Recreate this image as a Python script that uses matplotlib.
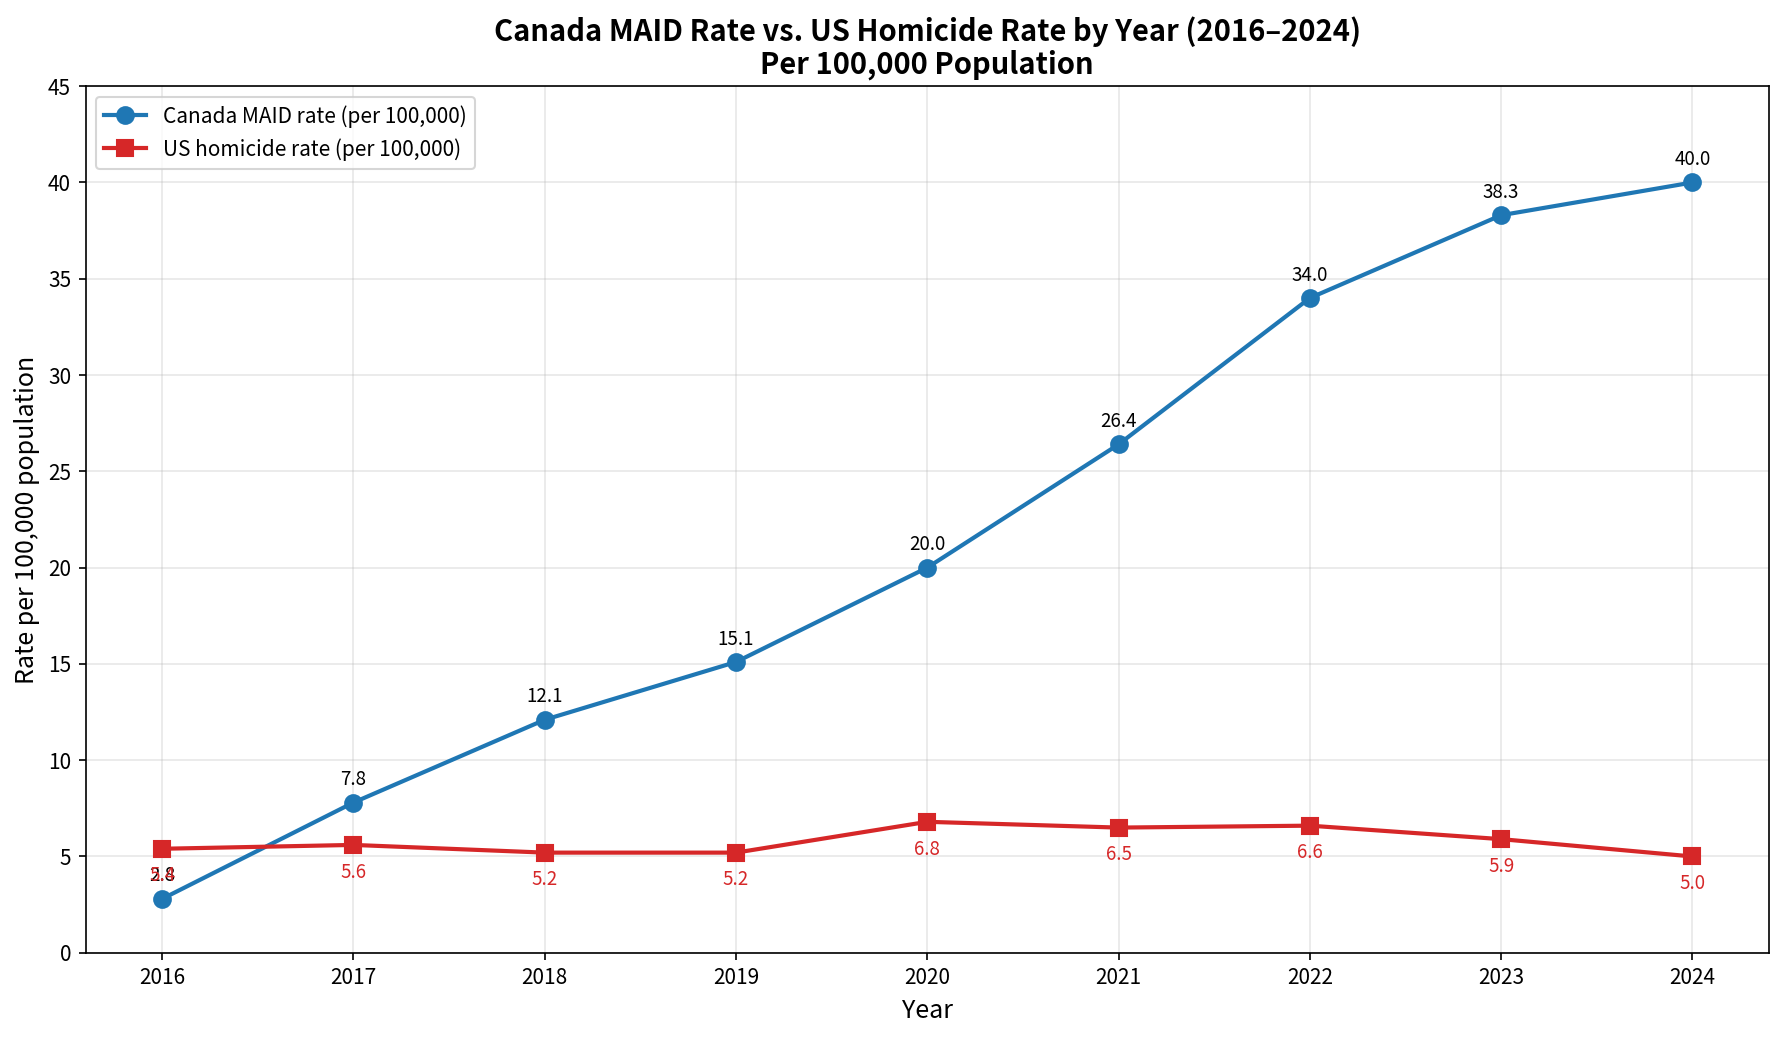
import matplotlib.pyplot as plt

plt.rcParams['font.family'] = ['Noto Sans CJK JP', 'DejaVu Sans']

years = [2016, 2017, 2018, 2019, 2020, 2021, 2022, 2023, 2024]
maid_rate = [2.8, 7.8, 12.1, 15.1, 20.0, 26.4, 34.0, 38.3, 40.0]
homicide_rate = [5.4, 5.6, 5.2, 5.2, 6.8, 6.5, 6.6, 5.9, 5.0]

fig, ax = plt.subplots(figsize=(11.9, 6.927), dpi=150)

ax.plot(years, maid_rate, marker='o', color='#1f77b4', linewidth=2, markersize=8,
        label='Canada MAID rate (per 100,000)')
ax.plot(years, homicide_rate, marker='s', color='#d62728', linewidth=2, markersize=8,
        label='US homicide rate (per 100,000)')

# value labels: MAID above, homicide below
for x, y in zip(years, maid_rate):
    ax.annotate(f'{y:.1f}', (x, y), textcoords='offset points', xytext=(0, 6),
                ha='center', va='bottom', fontsize=9, color='black')
for x, y in zip(years, homicide_rate):
    ax.annotate(f'{y:.1f}', (x, y), textcoords='offset points', xytext=(0, -8),
                ha='center', va='top', fontsize=9, color='#d62728')

ax.set_ylim(0, 45)
ax.set_xticks(years)
ax.set_xlabel('Year', fontsize=12)
ax.set_ylabel('Rate per 100,000 population', fontsize=12)
ax.set_title('Canada MAID Rate vs. US Homicide Rate by Year (2016\u20132024)\nPer 100,000 Population',
             fontsize=14, fontweight='bold', linespacing=1.1)
ax.tick_params(labelsize=10)
ax.grid(True, alpha=0.3)
ax.legend(loc='upper left', fontsize=10)

plt.subplots_adjust(left=0.048, right=0.991, top=0.917, bottom=0.083)
plt.savefig('out.png', dpi=150)
